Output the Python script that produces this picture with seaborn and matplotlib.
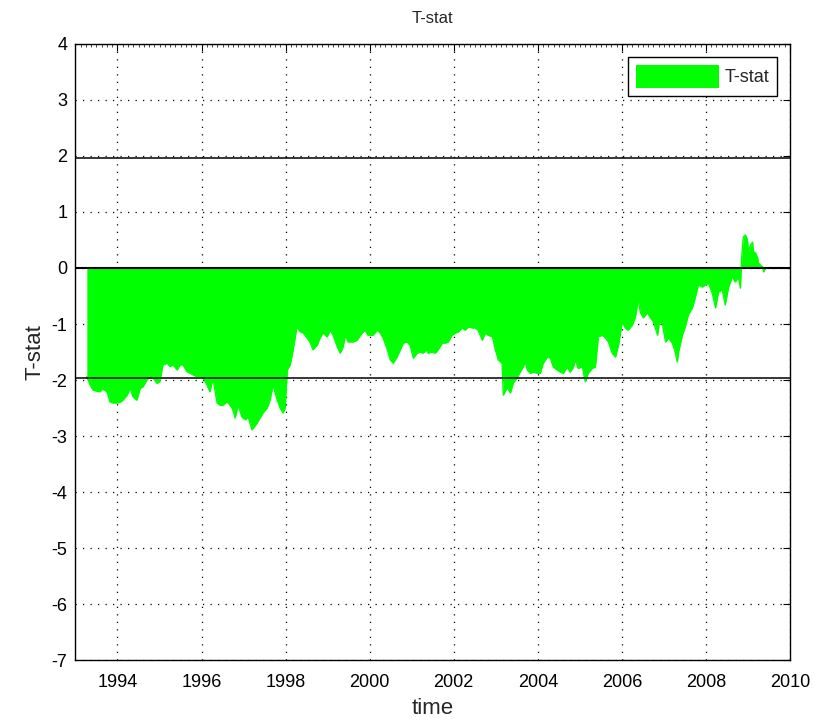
import matplotlib
matplotlib.use("Agg")
import matplotlib.pyplot as plt
import seaborn as sns
import numpy as np
import pandas as pd
from matplotlib.ticker import MultipleLocator

# ---- data ----
years = [1993.27, 1993.35, 1993.42, 1993.51, 1993.58, 1993.65, 1993.75, 1993.82, 1993.89, 1993.99,
         1994.06, 1994.13, 1994.23, 1994.30, 1994.37, 1994.46, 1994.54, 1994.61, 1994.70, 1994.77,
         1994.85, 1994.94, 1995.01, 1995.08, 1995.18, 1995.25, 1995.32, 1995.42, 1995.49, 1995.56,
         1995.65, 1995.73, 1995.80, 1995.89, 1995.96, 1996.04, 1996.13, 1996.20, 1996.27, 1996.37,
         1996.44, 1996.51, 1996.61, 1996.73, 1996.80, 1996.87, 1996.96, 1997.04, 1997.11, 1997.20,
         1997.32, 1997.39, 1997.46, 1997.56, 1997.63, 1997.70, 1997.80, 1997.87, 1997.94, 1997.99,
         1998.04, 1998.11, 1998.18, 1998.27, 1998.35, 1998.42, 1998.51, 1998.58, 1998.65, 1998.75,
         1998.82, 1998.89, 1998.99, 1999.06, 1999.13, 1999.23, 1999.30, 1999.37, 1999.42, 1999.49,
         1999.61, 1999.70, 1999.82, 1999.89, 1999.96, 2000.08, 2000.18, 2000.25, 2000.32, 2000.42,
         2000.49, 2000.56, 2000.65, 2000.73, 2000.80, 2000.89, 2000.96, 2001.04, 2001.13, 2001.20,
         2001.27, 2001.37, 2001.39, 2001.49, 2001.56, 2001.63, 2001.73, 2001.80, 2001.87, 2001.96,
         2002.04, 2002.11, 2002.20, 2002.27, 2002.35, 2002.44, 2002.51, 2002.58, 2002.68, 2002.75,
         2002.82, 2002.92, 2002.99, 2003.06, 2003.15, 2003.18, 2003.27, 2003.35, 2003.42, 2003.51,
         2003.58, 2003.65, 2003.70, 2003.75, 2003.82, 2003.89, 2003.99, 2004.06, 2004.13, 2004.23,
         2004.30, 2004.37, 2004.46, 2004.54, 2004.61, 2004.70, 2004.77, 2004.85, 2004.89, 2004.96,
         2005.06, 2005.13, 2005.20, 2005.30, 2005.37, 2005.44, 2005.54, 2005.61, 2005.68, 2005.77,
         2005.85, 2005.92, 2006.01, 2006.08, 2006.15, 2006.25, 2006.32, 2006.39, 2006.44, 2006.51,
         2006.61, 2006.68, 2006.75, 2006.85, 2006.89, 2006.96, 2007.04, 2007.11, 2007.20, 2007.27,
         2007.32, 2007.35, 2007.44, 2007.51, 2007.58, 2007.68, 2007.75, 2007.82, 2007.92, 2007.99,
         2008.06, 2008.15, 2008.23, 2008.30, 2008.39, 2008.46, 2008.54, 2008.63, 2008.70, 2008.77,
         2008.82, 2008.85, 2008.89, 2008.94, 2008.99, 2009.01, 2009.06, 2009.11, 2009.13, 2009.18,
         2009.23, 2009.25, 2009.30, 2009.35, 2009.37, 2009.42]
tstat = [-1.94, -2.09, -2.18, -2.20, -2.21, -2.16, -2.21, -2.39, -2.41, -2.41,
         -2.40, -2.36, -2.27, -2.15, -2.30, -2.36, -2.15, -2.12, -2.00, -1.94,
         -1.97, -2.06, -2.03, -1.73, -1.70, -1.76, -1.73, -1.82, -1.73, -1.73,
         -1.85, -1.88, -1.91, -1.94, -1.93, -1.97, -2.09, -2.21, -1.97, -2.41,
         -2.45, -2.45, -2.39, -2.50, -2.68, -2.45, -2.66, -2.71, -2.66, -2.89,
         -2.77, -2.68, -2.59, -2.50, -2.36, -2.09, -2.36, -2.50, -2.59, -2.50,
         -1.82, -1.73, -1.46, -1.05, -1.14, -1.16, -1.25, -1.32, -1.46, -1.38,
         -1.25, -1.16, -1.23, -1.11, -1.20, -1.41, -1.52, -1.41, -1.20, -1.32,
         -1.32, -1.29, -1.16, -1.11, -1.20, -1.20, -1.11, -1.16, -1.25, -1.46,
         -1.64, -1.70, -1.59, -1.46, -1.34, -1.32, -1.38, -1.61, -1.52, -1.50,
         -1.52, -1.46, -1.52, -1.50, -1.52, -1.46, -1.34, -1.34, -1.32, -1.20,
         -1.16, -1.14, -1.07, -1.11, -1.05, -1.07, -1.07, -1.11, -1.29, -1.16,
         -1.20, -1.23, -1.46, -1.64, -1.70, -2.27, -2.14, -2.23, -2.05, -1.96,
         -1.86, -1.77, -1.68, -1.82, -1.88, -1.86, -1.88, -1.88, -1.70, -1.59,
         -1.61, -1.77, -1.82, -1.86, -1.88, -1.77, -1.86, -1.77, -1.64, -1.79,
         -1.77, -2.03, -1.88, -1.79, -1.77, -1.23, -1.20, -1.25, -1.32, -1.52,
         -1.59, -1.38, -0.96, -1.07, -1.11, -1.02, -0.88, -0.57, -0.79, -0.89,
         -0.80, -0.89, -0.96, -1.20, -0.98, -0.98, -1.32, -1.25, -1.34, -1.50,
         -1.68, -1.50, -1.20, -1.05, -0.84, -0.71, -0.52, -0.30, -0.34, -0.30,
         -0.27, -0.45, -0.71, -0.43, -0.39, -0.66, -0.34, -0.16, -0.25, -0.16,
         -0.36, 0.18, 0.55, 0.59, 0.50, 0.29, 0.41, 0.46, 0.29, 0.27,
         0.18, 0.09, 0.05, 0.02, -0.07, 0.00]
crit = 1.96
x_ticks = [1994, 1996, 1998, 2000, 2002, 2004, 2006, 2008, 2010]
y_ticks = [-7, -6, -5, -4, -3, -2, -1, 0, 1, 2, 3, 4]

df = pd.DataFrame({"time": years, "T-stat": tstat})

sns.set_style("white")
plt.rcParams["font.family"] = ["Liberation Sans", "DejaVu Sans"]
plt.rcParams["axes.unicode_minus"] = False

fig = plt.figure(figsize=(8.15, 7.26), dpi=100)
ax = fig.add_axes([0.0926, 0.0909, 0.8767, 0.8485])

green = "#00ff00"
ax.fill_between(df["time"], 0, df["T-stat"], color=green,
                linewidth=0, zorder=2, label="T-stat")
sns.lineplot(data=df, x="time", y="T-stat", ax=ax, color=green, linewidth=1.0,
             zorder=2, legend=False)

ax.axhline(0, color="black", linewidth=1.5, zorder=3)
ax.axhline(crit, color="black", linewidth=1.1, zorder=3)
ax.axhline(-crit, color="black", linewidth=1.1, zorder=3)

ax.set_xlim(1993.0, 2010.0)
ax.set_ylim(-7, 4)
ax.set_xticks(x_ticks)
ax.set_yticks(y_ticks)
ax.xaxis.set_minor_locator(MultipleLocator(0.125))
ax.grid(True, which="major", color="black", linestyle=(0, (1, 5)), linewidth=0.9, zorder=1)
ax.set_axisbelow(True)

ax.tick_params(axis="both", which="major", direction="in", length=5, width=0.8,
               top=True, right=True, labelsize=13, colors="black", pad=6)
ax.tick_params(axis="x", which="major", pad=10)
ax.tick_params(axis="x", which="minor", direction="in", length=2, width=0.6,
               top=True, bottom=False)
for s in ax.spines.values():
    s.set_color("black")
    s.set_linewidth(1.0)

ax.set_title("T-stat", fontsize=12, pad=15)
ax.set_xlabel("time", fontsize=16, labelpad=5)
ax.set_ylabel("T-stat", fontsize=16, labelpad=4)

leg = ax.legend(loc="upper right", fontsize=13, frameon=True, fancybox=False,
                framealpha=1, edgecolor="black", handlelength=4.6, handleheight=1.6,
                borderaxespad=0.7, borderpad=0.45, handletextpad=0.3)
leg.get_frame().set_linewidth(1.0)

fig.savefig("out.png", dpi=100)
